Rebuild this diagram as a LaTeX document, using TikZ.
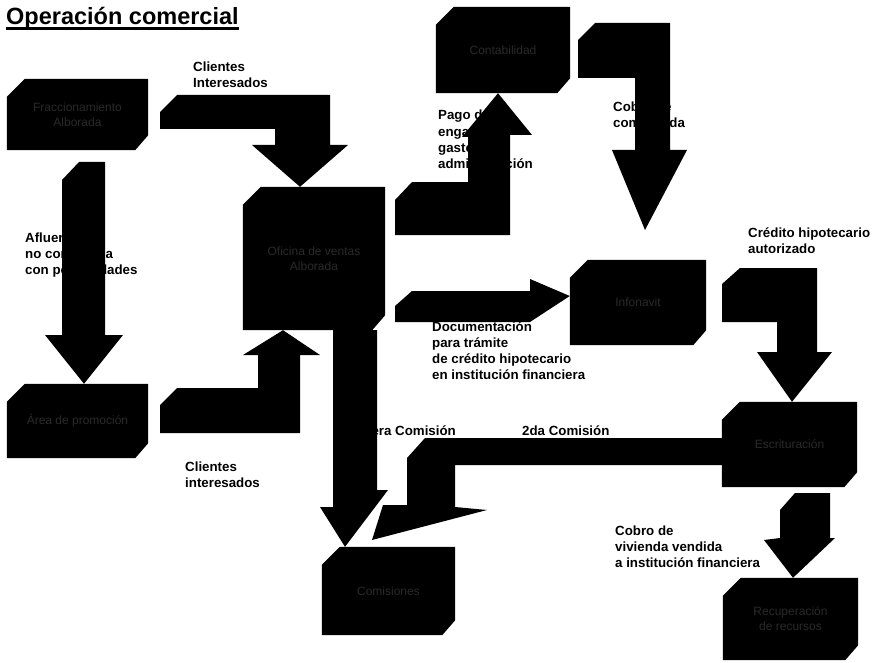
\documentclass[tikz,border=0pt]{standalone}
\usepackage{fontspec}
\setmainfont{Liberation Sans}
\usetikzlibrary{calc,backgrounds}

\definecolor{boxgray}{RGB}{42,42,42}
\newcommand\boxfont{\fontsize{12}{15}\selectfont}
\newcommand\lblfont{\bfseries\fontsize{13.3}{16}\selectfont}

\tikzset{
  box/.style 2 args={minimum width=#1pt, minimum height=#2pt, inner sep=0pt,
    font=\boxfont, text=boxgray, align=center},
  % multi-line labels are placed by the baseline of their last line
  lbl/.style={font=\lblfont, align=left, anchor=base west, inner sep=0pt},
  blockarrow/.style={fill=black}
}

% black box with cut top-left and bottom-right corners, drawn behind its text
\newcommand\chamfer[1]{%
  \begin{scope}[on background layer]
    \fill ($(#1.north west)+(0,18)$) -- ($(#1.north west)+(18,0)$) -- (#1.north east)
      -- ($(#1.south east)+(0,-15)$) -- ($(#1.south east)+(-13,0)$) -- (#1.south west) -- cycle;
  \end{scope}}

\begin{document}
\begin{tikzpicture}[x=1pt,y=-1pt]
\begin{scope}[on background layer]
  \fill[white] (0,0) rectangle (877,663);
\end{scope}
\useasboundingbox (0,0) rectangle (877,663);

% title
\node[inner sep=0pt, anchor=base west, font=\bfseries\fontsize{23.5}{28}\selectfont] (title) at (6,25) {Operación comercial};
\draw[line width=2.4pt] ($(title.base west)+(0,3.5)$) -- ($(title.base east)+(0,3.5)$);

% boxes
\node[box={141}{71}]  (A) at (77.5,114.5) {Fraccionamiento\\Alborada};   \chamfer{A}
\node[box={141}{74}]  (B) at (77.5,421)   {Área de promoción};          \chamfer{B}
\node[box={142}{143}] (C) at (314,258.5)  {Oficina de ventas\\Alborada}; \chamfer{C}
\node[box={134}{86}]  (D) at (503,50)     {Contabilidad};               \chamfer{D}
\node[box={136}{85}]  (E) at (638,302.5)  {Infonavit};                  \chamfer{E}
\node[box={135}{85}]  (F) at (789.5,444.5){Escrituración};              \chamfer{F}
\node[box={133}{88}]  (G) at (388.5,591)  {Comisiones};                 \chamfer{G}
\node[box={135}{82}]  (H) at (790.5,619)  {Recuperación\\de recursos};  \chamfer{H}

% labels
\node[lbl] (l1)  at (193,88)  {Clientes\\Interesados};
\node[lbl] (l2)  at (25,274)  {Afluencia\\no controlada\\con posibilidades};
\node[lbl] (l3)  at (185,487) {Clientes\\interesados};
\node[lbl] (l4)  at (438,168) {Pago de\\enganche\\gastos de\\administración};
\node[lbl] (l5)  at (613,128) {Cobro de\\compartida};
\node[lbl] (l6)  at (748,253) {Crédito hipotecario\\autorizado};
\node[lbl] (l7)  at (432,379) {Documentación\\para trámite\\de crédito hipotecario\\en institución financiera};
\node[lbl] (l8)  at (364,435) {1era Comisión};
\node[lbl] (l9)  at (522,435) {2da Comisión};
\node[lbl] (l10) at (615,567) {Cobro de\\vivienda vendida\\a institución financiera};

% block arrows
% A -> C
\fill[blockarrow] (160,112) -- (177,95) -- (330,95) -- (330,145) -- (348,145)
  -- (300,0 |- C.north) -- (252,145) -- (275,145) -- (275,129) -- (160,129) -- cycle;
% A -> B
\fill[blockarrow] (62,180) -- (79,162) -- (105,162) -- (105,335) -- (123,335)
  -- (84,0 |- B.north) -- (45,335) -- (62,335) -- cycle;
% B -> C
\fill[blockarrow] (160,405) -- (177,388) -- (258,388) -- (258,355) -- (243,355)
  -- (283,0 |- C.south) -- (320,355) -- (300,355) -- (300,433) -- (160,433) -- cycle;
% C -> D
\fill[blockarrow] (395,200) -- (412,182) -- (468,182) -- (468,137) -- (462,137)
  -- (498,0 |- D.south) -- (532,135) -- (510,135) -- (510,235) -- (395,235) -- cycle;
% D -> E
\fill[blockarrow] (578,40) -- (595,23) -- (670,23) -- (670,150) -- (687,150)
  -- (645,230) -- (612,150) -- (635,150) -- (635,78) -- (578,78) -- cycle;
% C -> E
\fill[blockarrow] (395,306) -- (412,291) -- (530,291) -- (530,279)
  -- (E.west |- 0,296) -- (530,322) -- (395,322) -- cycle;
% E -> F
\fill[blockarrow] (722,284) -- (740,268) -- (817,268) -- (817,352) -- (832,352)
  -- (792,0 |- F.north) -- (757,352) -- (777,352) -- (777,322) -- (722,322) -- cycle;
% C -> G
\fill[blockarrow] (333,0 |- C.south) -- (377,0 |- C.south) -- (377,490) -- (388,490)
  -- (345,0 |- G.north) -- (320,507) -- (333,507) -- cycle;
% F -> G
\fill[blockarrow] (407,458) -- (425,438) -- (F.west |- 0,438) -- (F.west |- 0,465)
  -- (455,465) -- (455,507) -- (487,510) -- (372,540) -- (383,505) -- (407,505) -- cycle;
% F -> H
\fill[blockarrow] (780,510) -- (795,493) -- (830,493) -- (830,538) -- (835,538)
  -- (793,0 |- H.north) -- (764,540) -- (780,538) -- cycle;
\end{tikzpicture}
\end{document}
